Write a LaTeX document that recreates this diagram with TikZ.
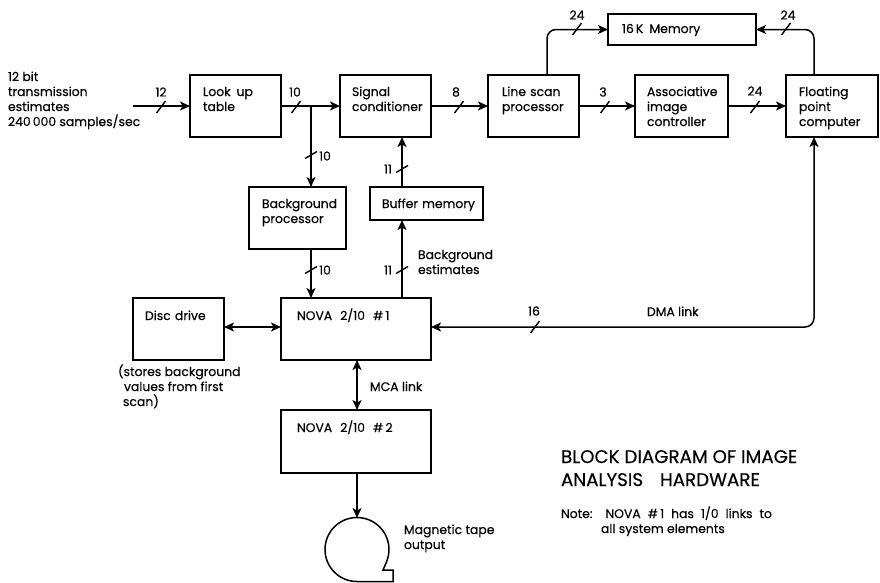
\documentclass[tikz,border=0pt]{standalone}
\usepackage{fontspec}
\setmainfont{Poppins}[FakeBold=0.3]
\usetikzlibrary{arrows.meta,calc}
\tikzset{
  x=1pt,y=-1pt,
  every node/.style={font=\fontsize{12.4}{15}\selectfont,inner sep=0pt,outer sep=0pt,text=black},
  blk/.style n args={4}{draw=black,line width=2pt,anchor=north west,align=left,
    inner xsep=#3,inner ysep=0pt,text width=#1-2*#3,text height=#4,text depth=#2-#4},
  conn/.style={line width=1.5pt,-{Stealth[length=10pt,width=9pt,inset=2.5pt]}},
  dconn/.style={line width=1.5pt,{Stealth[length=10pt,width=9pt,inset=2.5pt]}-{Stealth[length=10pt,width=9pt,inset=2.5pt]}},
  lbl/.style={anchor=center},
  txt/.style={anchor=base west,align=left},
  tickh/.style={line width=1.4pt},
}
\newcommand{\tickH}[1]{\draw[tickh] ($(#1)+(-4.5,6)$) -- ($(#1)+(4.5,-6)$);}
\newcommand{\tickV}[1]{\draw[tickh] ($(#1)+(-6,3.5)$) -- ($(#1)+(6,-3.5)$);}
\begin{document}
\begin{tikzpicture}
\useasboundingbox (0,0) rectangle (880,582);
% blocks
\node[blk={91pt}{62pt}{13pt}{21pt}] (lut) at (190,75) {Look\hspace{6pt}up\\table};
\node[blk={91pt}{62pt}{12pt}{21pt}] (sig) at (340,75) {Signal\\conditioner};
\node[blk={91pt}{62pt}{14pt}{21pt}] (lsp) at (488,75) {Line scan\\processor};
\node[blk={93pt}{62pt}{12pt}{21pt}] (aic) at (635,75) {Associative\\image\\controller};
\node[blk={92pt}{62pt}{13pt}{21pt}] (fpc) at (786,75) {Floating\\point\\computer};
\node[blk={148pt}{31pt}{14pt}{19pt}] (mem) at (608,14) {16\,K\, Memory};
\node[blk={97pt}{62pt}{13pt}{21pt}] (bgp) at (249,187) {Background\\processor};
\node[blk={113pt}{33pt}{12pt}{21pt}] (buf) at (370,187) {\mbox{Buffer memory}};
\node[blk={150pt}{62pt}{16pt}{22pt}] (nv1) at (281,298) {NOVA\hspace{8pt}2/10\hspace{8pt}\#\,1};
\node[blk={91pt}{62pt}{12pt}{22pt}] (dsk) at (133,298) {Disc drive};
\node[blk={150pt}{63pt}{16pt}{22pt}] (nv2) at (281,410) {NOVA\hspace{8pt}2/10\hspace{8pt}\#\,2};
% tape
\coordinate (tapeTop) at (357,518);
\draw[line width=1.5pt] (386.5,562) -- (383,570) -- (393,570) -- (393,581.5) -- (357,581.5)
  arc[start angle=90,end angle=382.7,radius=32];
% free ends and branch points
\coordinate (inp) at (133,106);
\coordinate (br) at (311,106);
\coordinate (bgT) at (br |- bgp.north);
\coordinate (bgB) at (br |- bgp.south);
\coordinate (n1T) at (br |- nv1.north);
\coordinate (bmx) at (402,220);
\coordinate (bmT) at (bmx |- buf.north);
\coordinate (sgB) at (bmx |- sig.south);
\coordinate (n1Tb) at (bmx |- nv1.north);
\coordinate (lspT) at (547,75);
\coordinate (fpcT) at (814,75);
\coordinate (fpcB) at (814,137);
\coordinate (n1R) at (431,327);
\coordinate (n1L) at (281,327);
\coordinate (dkR) at (224,327);
\coordinate (n1Bm) at (357,360);
\coordinate (n2T) at (357,410);
\coordinate (n2B) at (357,473);
% connectors
\draw[conn] (inp) -- (lut.west);
\draw[conn] (lut.east) -- (sig.west);
\draw[conn] (sig.east) -- (lsp.west);
\draw[conn] (lsp.east) -- (aic.west);
\draw[conn] (aic.east) -- (fpc.west);
\draw[conn] (br) -- (bgT);
\draw[conn] (bgB) -- (n1T);
\draw[conn] (bmT) -- (sgB);
\draw[conn] (n1Tb) -- (bmx);
\draw[dconn] (dkR) -- (n1L);
\draw[dconn] (n1Bm) -- (n2T);
\draw[conn] (n2B) -- (tapeTop);
\draw[conn,rounded corners=9pt] (lspT) -- (lspT |- mem.west) -- (mem.west);
\draw[conn,rounded corners=9pt] (fpcT) -- (fpcT |- mem.east) -- (mem.east);
\draw[dconn,rounded corners=9pt] (n1R) -- (fpcB |- n1R) -- (fpcB);
% bus ticks
\tickH{161,107}
\tickH{296,107}
\tickH{459,107}
\tickH{605,107}
\tickH{755,107}
\tickH{577,29}
\tickH{786,29}
\tickH{535,327}
\tickV{311,155}
\tickV{311,270}
\tickV{402,169}
\tickV{402,270}
% bus labels
\node[lbl] (l12) at (161,92) {12};
\node[lbl] (l10a) at (295,92) {10};
\node[lbl] (l8) at (456,92) {8};
\node[lbl] (l3) at (603,92) {3};
\node[lbl] (l24c) at (755,91) {24};
\node[lbl] (l24a) at (577,15) {24};
\node[lbl] (l24b) at (788,15) {24};
\node[lbl] (l10b) at (325,156) {10};
\node[lbl] (l10c) at (325,270) {10};
\node[lbl] (l11a) at (388,169) {11};
\node[lbl] (l11b) at (388,270) {11};
\node[lbl] (l16) at (534,311) {16};
% texts
\node[txt] (inTxt) at (8,126) {12 bit\\transmission\\estimates\\240\,000 samples/sec};
\node[txt] (bgTxt) at (418,274) {Background\\estimates};
\node[txt] (dskTxt) at (118,406) {(stores background\\\hspace*{6pt}values from first\\\hspace*{5pt}scan)};
\node[txt] (mcaTxt) at (370,391) {MCA link};
\node[txt] (tapeTxt) at (404,549) {Magnetic tape\\output};
\node[txt] (dmaTxt) at (647,316) {DMA link};
\node[txt,font=\fontsize{18.3}{23}\selectfont] (title) at (561,486) {BLOCK DIAGRAM OF IMAGE\\ANALYSIS\hspace{17pt}HARDWARE};
\node[txt] (note) at (561,533) {Note:\hspace{13pt}NOVA\hspace{7pt}\#\,1\hspace{7pt}has\hspace{7pt}1/0\hspace{7pt}links\hspace{7pt}to\\\hspace*{40pt}all system elements};
\end{tikzpicture}
\end{document}
